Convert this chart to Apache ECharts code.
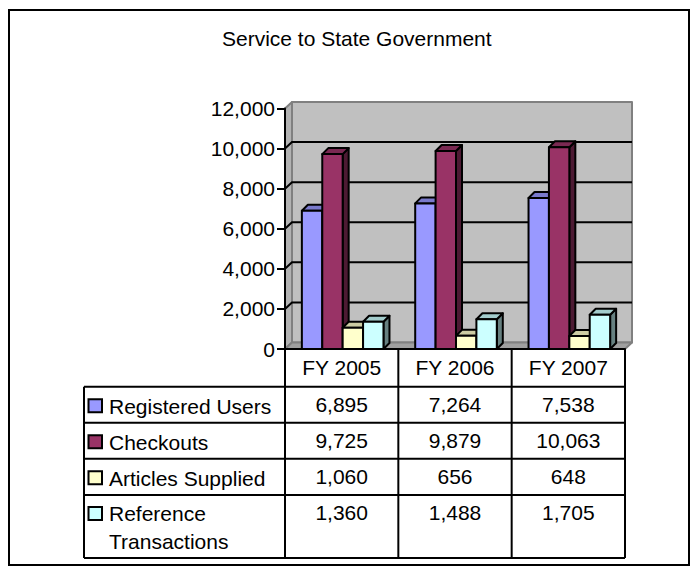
<!DOCTYPE html>
<html>
<head>
<meta charset="utf-8">
<title>Service to State Government</title>
<script src="https://cdn.jsdelivr.net/npm/echarts@6/dist/echarts.min.js"></script>
<style>
  html, body { margin: 0; padding: 0; background: #ffffff; }
  #chart { width: 700px; height: 575px; }
</style>
</head>
<body>
<div id="chart"></div>
<script>
// ---- data ----
const titleText = 'Service to State Government';
const categories = ['FY 2005', 'FY 2006', 'FY 2007'];
const seriesNames = ['Registered Users', 'Checkouts', 'Articles Supplied', 'Reference Transactions'];
const registeredUsers = [6895, 7264, 7538];
const checkouts = [9725, 9879, 10063];
const articlesSupplied = [1060, 656, 648];
const referenceTransactions = [1360, 1488, 1705];
const yTicks = [0, 2000, 4000, 6000, 8000, 10000, 12000];

// ---- styling ----
const seriesValues = [registeredUsers, checkouts, articlesSupplied, referenceTransactions];
const seriesColors = ['#9999FF', '#993366', '#FFFFCC', '#CCFFFF'];
const FONT = '"Liberation Sans", Arial, Helvetica, sans-serif';
const FS = 21;
const BAR_DX = 6, BAR_DY = 6;     // depth of the 3D columns
const WALL_DX = 7, WALL_DY = 6.5; // depth of the walls and floor

function shade(hex, f) {
  const n = parseInt(hex.slice(1), 16);
  const r = Math.round(((n >> 16) & 255) * f);
  const g = Math.round(((n >> 8) & 255) * f);
  const b = Math.round((n & 255) * f);
  return 'rgb(' + r + ',' + g + ',' + b + ')';
}
const fmt = v => v.toLocaleString('en-US');

// back wall, side wall, floor and gridlines
function renderWalls(params, api) {
  const cs = params.coordSys;
  const L = cs.x, R = cs.x + cs.width, T = cs.y, B = cs.y + cs.height;
  const edge = { stroke: '#808080', lineWidth: 2, lineJoin: 'round' };
  const children = [
    { type: 'rect', shape: { x: L + WALL_DX, y: T - WALL_DY, width: cs.width, height: cs.height },
      style: Object.assign({ fill: '#c0c0c0' }, edge) },
    { type: 'polygon', shape: { points: [[L, B], [L, T], [L + WALL_DX, T - WALL_DY], [L + WALL_DX, B - WALL_DY]] },
      style: Object.assign({ fill: '#b2b2b2' }, edge) },
    { type: 'polygon', shape: { points: [[L, B], [L + WALL_DX, B - WALL_DY], [R + WALL_DX, B - WALL_DY], [R, B]] },
      style: Object.assign({ fill: '#a0a0a0' }, edge) }
  ];
  const maxTick = yTicks[yTicks.length - 1];
  yTicks.forEach(t => {
    if (t <= 0 || t >= maxTick) return;
    const y = api.coord([0, t])[1];
    children.push({ type: 'polyline',
      shape: { points: [[L, y], [L + WALL_DX, y - WALL_DY], [R + WALL_DX, y - WALL_DY]] },
      style: { fill: null, stroke: '#000', lineWidth: 2 } });
  });
  return { type: 'group', children: children };
}

// one 3D column: side face, top face, front face
function columnRenderer(si) {
  return function (params, api) {
    const ci = api.value(0), v = api.value(1);
    const top = api.coord([ci, v]);
    const base = api.coord([ci, 0]);
    const band = api.size([1, 0])[0];
    const bw = band * 0.18;
    const x0 = top[0] - 2 * bw + 1 + si * bw;
    const x1 = x0 + bw;
    const yT = top[1], yB = base[1];
    const c = seriesColors[si];
    const ln = { stroke: '#000', lineWidth: 2, lineJoin: 'round' };
    return { type: 'group', children: [
      { type: 'polygon', shape: { points: [[x1, yB], [x1 + BAR_DX, yB - BAR_DY], [x1 + BAR_DX, yT - BAR_DY], [x1, yT]] },
        style: Object.assign({ fill: shade(c, 0.5) }, ln) },
      { type: 'polygon', shape: { points: [[x0, yT], [x0 + BAR_DX, yT - BAR_DY], [x1 + BAR_DX, yT - BAR_DY], [x1, yT]] },
        style: Object.assign({ fill: shade(c, 0.8) }, ln) },
      { type: 'rect', shape: { x: x0, y: yT, width: bw, height: yB - yT },
        style: Object.assign({ fill: c }, ln) }
    ] };
  };
}

const chart = echarts.init(document.getElementById('chart'), null, { renderer: 'svg' });

const series = [{
  name: 'walls', type: 'custom', z: 1, silent: true,
  renderItem: renderWalls, data: [[0, 0]], encode: { x: 0, y: 1 }
}];
seriesNames.forEach((name, si) => {
  series.push({
    name: name, type: 'custom', z: 2 + si,
    renderItem: columnRenderer(si),
    data: seriesValues[si].map((v, i) => [i, v]),
    encode: { x: 0, y: 1 }
  });
});

chart.setOption({
  animation: false,
  backgroundColor: '#ffffff',
  textStyle: { fontFamily: FONT },
  title: {
    text: titleText, left: 222, top: 28, padding: 0,
    textStyle: { fontFamily: FONT, fontSize: FS, fontWeight: 'normal', color: '#000' }
  },
  grid: { left: 285, right: 75, top: 108.5, bottom: 226, containLabel: false },
  xAxis: {
    type: 'category', data: categories, z: 10,
    axisLine: { show: true, lineStyle: { color: '#000', width: 2 } },
    axisTick: { show: false },
    axisLabel: { color: '#000', fontSize: FS, fontFamily: FONT, margin: 8 },
    splitLine: { show: false }
  },
  yAxis: {
    type: 'value', min: yTicks[0], max: yTicks[yTicks.length - 1], interval: yTicks[1] - yTicks[0], z: 10,
    axisLine: { show: true, lineStyle: { color: '#000', width: 2 } },
    axisTick: { show: true, length: 8, lineStyle: { color: '#000', width: 2 } },
    axisLabel: { color: '#000', fontSize: FS, fontFamily: FONT, margin: 10, formatter: v => fmt(v) },
    splitLine: { show: false }
  },
  series: series
});

// ---- data table under the plot ----
const colX = categories.map((c, i) => chart.convertToPixel({ xAxisIndex: 0 }, i));
const band = colX.length > 1 ? colX[1] - colX[0] : 113;
const headerTop = chart.convertToPixel({ yAxisIndex: 0 }, 0);
const tableLeft = 84;
const tableRight = colX[colX.length - 1] + band / 2;
const rowEdges = [386.7, 422.7, 458.7, 495, 558];

const g = [];
const line = (x1, y1, x2, y2) => ({
  type: 'line', z: 20, shape: { x1: x1, y1: y1, x2: x2, y2: y2 },
  style: { stroke: '#000', lineWidth: 2 }
});
rowEdges.forEach(y => g.push(line(tableLeft, y, tableRight, y)));
g.push(line(tableLeft, rowEdges[0], tableLeft, rowEdges[rowEdges.length - 1]));
for (let i = 0; i <= colX.length; i++) {
  const x = colX[0] - band / 2 + i * band;
  g.push(line(x, headerTop, x, rowEdges[rowEdges.length - 1]));
}

seriesNames.forEach((name, si) => {
  const y0 = rowEdges[si], y1 = rowEdges[si + 1];
  const single = (y1 - y0) < 45;
  const cy = single ? (y0 + y1) / 2 : y0 + 17.5;
  // legend key
  g.push({ type: 'rect', z: 20, shape: { x: 88.5, y: cy - 5.5, width: 13.5, height: 13 },
    style: { fill: seriesColors[si], stroke: '#000', lineWidth: 2 } });
  // series name
  g.push({ type: 'text', z: 20, x: 109, y: single ? cy + 1.5 : cy - 12.5,
    style: { text: name, fontFamily: FONT, fontSize: FS, fill: '#000',
      width: 172, overflow: 'break', lineHeight: 27.7,
      align: 'left', verticalAlign: single ? 'middle' : 'top' } });
  // values
  seriesValues[si].forEach((v, ci) => {
    g.push({ type: 'text', z: 20, x: colX[ci], y: cy,
      style: { text: fmt(v), fontFamily: FONT, fontSize: FS, fill: '#000',
        align: 'center', verticalAlign: 'middle' } });
  });
});

// outer border
g.push({ type: 'rect', z: 0, shape: { x: 9, y: 10, width: 680, height: 555 },
  style: { fill: null, stroke: '#000', lineWidth: 2 } });

chart.setOption({ graphic: { elements: g } });
</script>
</body>
</html>
